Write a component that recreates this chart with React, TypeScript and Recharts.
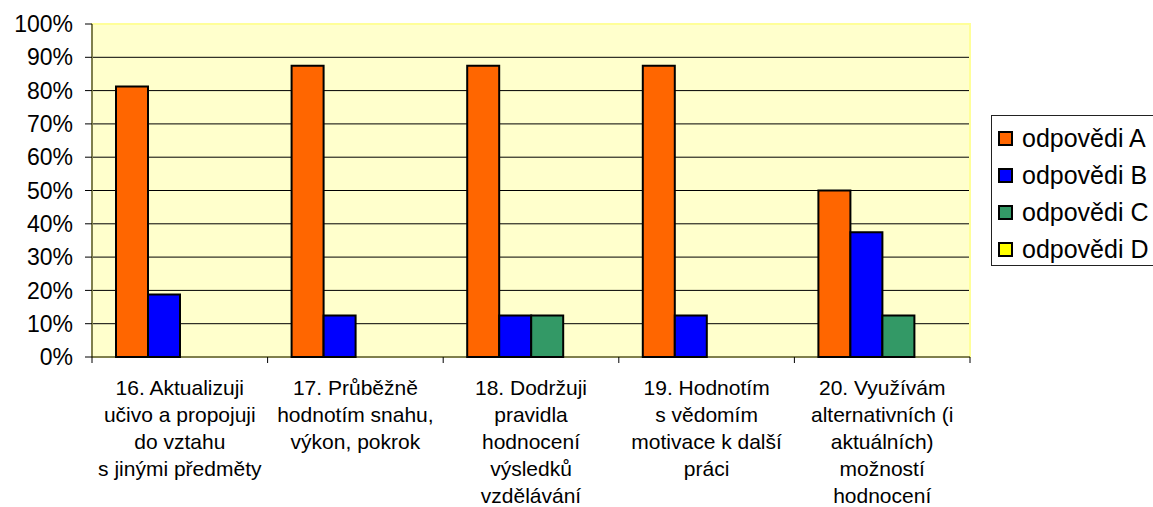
import { Bar, BarChart, CartesianGrid, ReferenceArea, XAxis, YAxis } from 'recharts';

const categories = [
  '16. Aktualizuji\nučivo a propojuji\ndo vztahu\ns jinými předměty',
  '17. Průběžně\nhodnotím snahu,\nvýkon, pokrok',
  '18. Dodržuji\npravidla\nhodnocení\nvýsledků\nvzdělávání',
  '19. Hodnotím\ns vědomím\nmotivace k další\npráci',
  '20. Využívám\nalternativních (i\naktuálních)\nmožností\nhodnocení'
];

const answersA = [0.8125, 0.875, 0.875, 0.875, 0.5];
const answersB = [0.1875, 0.125, 0.125, 0.125, 0.375];
const answersC = [0, 0, 0.125, 0, 0.125];
const answersD = [0, 0, 0, 0, 0];

const yTicks = [0, 0.1, 0.2, 0.3, 0.4, 0.5, 0.6, 0.7, 0.8, 0.9, 1];
const gridValues = [0.1, 0.2, 0.3, 0.4, 0.5, 0.6, 0.7, 0.8, 0.9];

const series = [
  { key: 'a', name: 'odpovědi A', color: '#FF6600', values: answersA },
  { key: 'b', name: 'odpovědi B', color: '#0000FF', values: answersB },
  { key: 'c', name: 'odpovědi C', color: '#339966', values: answersC },
  { key: 'd', name: 'odpovědi D', color: '#FFFF00', values: answersD }
];

const data = categories.map((label, i) => {
  const row: Record<string, string | number> = { label };
  series.forEach((s) => {
    row[s.key] = s.values[i];
  });
  return row;
});

const FONT = '"Liberation Sans", Arial, sans-serif';
const WIDTH = 1153;
const HEIGHT = 507;
const PLOT_LEFT = 92;
const PLOT_RIGHT = 970;
const BAND = (PLOT_RIGHT - PLOT_LEFT) / categories.length;

function CategoryTick(props: any) {
  const { x, y, payload, index } = props;
  const lines = String(payload.value).split('\n');
  const half = BAND / 2;
  return (
    <g>
      <line stroke="#000" x1={x - half} x2={x - half} y1={y - 6} y2={y} />
      {index === categories.length - 1 && (
        <line stroke="#000" x1={x + half} x2={x + half} y1={y - 6} y2={y} />
      )}
      <text fill="#000" fontFamily={FONT} fontSize={21} textAnchor="middle">
        {lines.map((line, i) => (
          <tspan key={i} x={x} y={y + 32 + i * 27}>
            {line}
          </tspan>
        ))}
      </text>
    </g>
  );
}

export default function App() {
  return (
    <div
      style={{
        position: 'absolute',
        left: 0,
        top: 0,
        width: WIDTH,
        height: HEIGHT,
        overflow: 'hidden',
        background: '#fff'
      }}
    >
      <BarChart
        barCategoryGap={24}
        barGap={0}
        data={data}
        height={HEIGHT}
        margin={{ top: 24, right: WIDTH - PLOT_RIGHT, bottom: 0, left: 0 }}
        width={WIDTH}
      >
        <CartesianGrid
          fill="#FFFFCC"
          horizontalValues={gridValues}
          stroke="#000"
          vertical={false}
        />
        <ReferenceArea
          fill="none"
          ifOverflow="visible"
          stroke="#FFFF99"
          strokeWidth={2}
          y1={0}
          y2={1}
        />
        <XAxis
          axisLine={{ stroke: '#000' }}
          dataKey="label"
          height={150}
          interval={0}
          tick={<CategoryTick />}
          tickLine={false}
          tickMargin={0}
          tickSize={6}
        />
        <YAxis
          axisLine={{ stroke: '#000' }}
          domain={[0, 1]}
          interval={0}
          tick={{ fill: '#000', fontFamily: FONT, fontSize: 23 }}
          tickFormatter={(v: number) => `${Math.round(v * 100)}%`}
          tickLine={{ stroke: '#000' }}
          tickMargin={12}
          tickSize={7}
          ticks={yTicks}
          width={PLOT_LEFT}
        />
        {series.map((s) => (
          <Bar
            dataKey={s.key}
            fill={s.color}
            isAnimationActive={false}
            key={s.key}
            name={s.name}
            stroke="#000"
            strokeWidth={2}
          />
        ))}
      </BarChart>
      <div
        style={{
          position: 'absolute',
          left: 991,
          top: 115,
          width: 180,
          height: 151,
          border: '1px solid #222',
          boxSizing: 'border-box',
          fontFamily: FONT,
          fontSize: 25
        }}
      >
        {series.map((s, i) => (
          <div
            key={s.key}
            style={{
              position: 'absolute',
              left: 6,
              top: 4 + i * 37,
              height: 37,
              display: 'flex',
              alignItems: 'center',
              whiteSpace: 'nowrap'
            }}
          >
            <span
              style={{
                display: 'inline-block',
                width: 15,
                height: 15,
                boxSizing: 'border-box',
                border: '2px solid #000',
                background: s.color,
                marginRight: 9
              }}
            />
            <span>{s.name}</span>
          </div>
        ))}
      </div>
    </div>
  );
}
